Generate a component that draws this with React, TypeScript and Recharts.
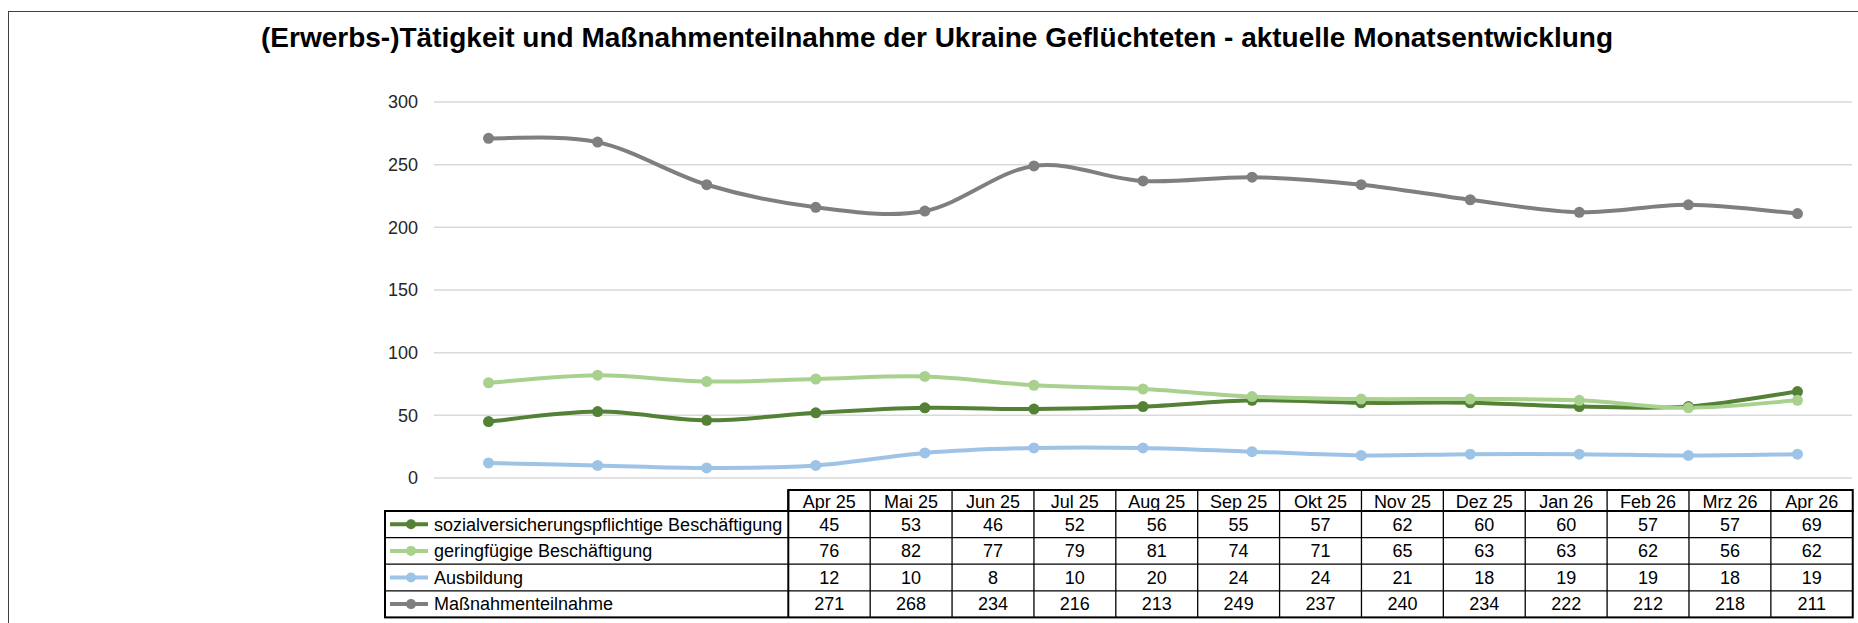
import React from "react"
import { LineChart, Line, XAxis, YAxis, CartesianGrid } from "recharts"

const months = ["Apr 25", "Mai 25", "Jun 25", "Jul 25", "Aug 25", "Sep 25", "Okt 25", "Nov 25", "Dez 25", "Jan 26", "Feb 26", "Mrz 26", "Apr 26"]
const svBeschaeftigung = [45, 53, 46, 52, 56, 55, 57, 62, 60, 60, 57, 57, 69]
const geringfuegig = [76, 82, 77, 79, 81, 74, 71, 65, 63, 63, 62, 56, 62]
const ausbildung = [12, 10, 8, 10, 20, 24, 24, 21, 18, 19, 19, 18, 19]
const massnahmen = [271, 268, 234, 216, 213, 249, 237, 240, 234, 222, 212, 218, 211]
const yTicks = [0, 50, 100, 150, 200, 250, 300]

const series = [
  { key: "sv", name: "sozialversicherungspflichtige Beschäftigung", color: "#538135", values: svBeschaeftigung },
  { key: "gering", name: "geringfügige Beschäftigung", color: "#a9d18e", values: geringfuegig },
  { key: "ausb", name: "Ausbildung", color: "#9dc3e6", values: ausbildung },
  { key: "mass", name: "Maßnahmenteilnahme", color: "#7f7f7f", values: massnahmen },
]

const chartData = months.map((month, i) => {
  const row: Record<string, string | number> = { month }
  series.forEach((s) => (row[s.key] = s.values[i]))
  return row
})

// Excel-like smoothed line (Catmull-Rom through the points)
const excelSmooth = (context: any) => {
  let pts: [number, number][] = []
  return {
    areaStart() {},
    areaEnd() {},
    lineStart() {
      pts = []
    },
    point(x: number, y: number) {
      pts.push([+x, +y])
    },
    lineEnd() {
      const n = pts.length
      if (!n) return
      context.moveTo(pts[0][0], pts[0][1])
      for (let i = 0; i < n - 1; i++) {
        const p0 = pts[Math.max(i - 1, 0)]
        const p1 = pts[i]
        const p2 = pts[i + 1]
        const p3 = pts[Math.min(i + 2, n - 1)]
        context.bezierCurveTo(
          p1[0] + (p2[0] - p0[0]) / 6,
          p1[1] + (p2[1] - p0[1]) / 6,
          p2[0] - (p3[0] - p1[0]) / 6,
          p2[1] - (p3[1] - p1[1]) / 6,
          p2[0],
          p2[1]
        )
      }
    },
  }
}

const FONT = "'Liberation Sans', Arial, sans-serif"

// plot area: x 434..1852, 13 category bands
const PLOT_W = 1418
const HALF_BAND = PLOT_W / months.length / 2

// data table under the plot (Excel style)
const TABLE_LEFT = 385
const COL_LEFT = 788.3
const COL_W = 81.88
const HEAD_TOP = 490
const BODY_TOP = 511
const ROW_H = 26.6
const TABLE_FONT = 18

const DataTable = () => {
  const right = COL_LEFT + COL_W * months.length
  const bottom = BODY_TOP + ROW_H * series.length
  return (
    <svg width={1858} height={623} style={{ position: "absolute", left: 0, top: 0 }}>
      {months.map((m, i) => (
        <text key={m} x={COL_LEFT + COL_W * (i + 0.5)} y={HEAD_TOP + 17.5} textAnchor="middle" fontSize={TABLE_FONT} fill="#000" fontFamily={FONT}>
          {m}
        </text>
      ))}
      {series.map((s, r) => {
        const top = BODY_TOP + ROW_H * r
        const cy = top + ROW_H / 2
        return (
          <g key={s.key}>
            <line x1={390} x2={428} y1={cy} y2={cy} stroke={s.color} strokeWidth={4} />
            <circle cx={411} cy={cy} r={5} fill={s.color} />
            <text x={434} y={top + 19.5} fontSize={TABLE_FONT} fill="#000" fontFamily={FONT}>
              {s.name}
            </text>
            {s.values.map((v, i) => (
              <text key={i} x={COL_LEFT + COL_W * (i + 0.5)} y={top + 19.5} textAnchor="middle" fontSize={TABLE_FONT} fill="#000" fontFamily={FONT}>
                {v}
              </text>
            ))}
          </g>
        )
      })}
      {series.slice(1).map((s, r) => (
        <line key={s.key} x1={TABLE_LEFT} x2={right} y1={BODY_TOP + ROW_H * (r + 1)} y2={BODY_TOP + ROW_H * (r + 1)} stroke="#000" strokeWidth={1.3} />
      ))}
      {months.slice(1).map((m, i) => (
        <line key={m} x1={COL_LEFT + COL_W * (i + 1)} x2={COL_LEFT + COL_W * (i + 1)} y1={HEAD_TOP} y2={bottom} stroke="#000" strokeWidth={1.3} />
      ))}
      <line x1={COL_LEFT} x2={COL_LEFT} y1={HEAD_TOP} y2={bottom} stroke="#000" strokeWidth={2} />
      <rect x={COL_LEFT} y={HEAD_TOP} width={right - COL_LEFT} height={BODY_TOP - HEAD_TOP} fill="none" stroke="#000" strokeWidth={2} />
      <rect x={TABLE_LEFT} y={BODY_TOP} width={right - TABLE_LEFT} height={bottom - BODY_TOP} fill="none" stroke="#000" strokeWidth={2} />
    </svg>
  )
}

export default function App() {
  return (
    <div
      style={{
        position: "absolute",
        left: 0,
        top: 0,
        width: 1858,
        height: 623,
        overflow: "hidden",
        background: "#fff",
        fontFamily: FONT,
      }}
    >
      <div
        style={{
          position: "absolute",
          left: 8,
          top: 11,
          width: 1900,
          height: 700,
          borderLeft: "1.5px solid #404040",
          borderTop: "1.5px solid #404040",
        }}
      />
      <div
        style={{
          position: "absolute",
          left: 0,
          width: 1874,
          top: 22,
          textAlign: "center",
          fontSize: 28,
          fontWeight: "bold",
          color: "#000",
          whiteSpace: "nowrap",
        }}
      >
        (Erwerbs-)Tätigkeit und Maßnahmenteilnahme der Ukraine Geflüchteten - aktuelle Monatsentwicklung
      </div>
      <div style={{ position: "absolute", left: 0, top: 0 }}>
        <LineChart width={1858} height={490} data={chartData} margin={{ top: 102, right: 6, bottom: 12, left: 374 }}>
          <CartesianGrid vertical={false} stroke="#d9d9d9" strokeWidth={1.5} />
          <XAxis dataKey="month" hide padding={{ left: HALF_BAND, right: HALF_BAND }} />
          <YAxis
            domain={[0, 300]}
            ticks={yTicks}
            width={60}
            axisLine={false}
            tickLine={false}
            tickMargin={10}
            tick={{ fill: "#262626", fontSize: 18, fontFamily: FONT }}
          />
          {series.map((s) => (
            <Line
              key={s.key}
              dataKey={s.key}
              name={s.name}
              type={excelSmooth as any}
              stroke={s.color}
              strokeWidth={4}
              dot={{ r: 5.5, fill: s.color, stroke: "none" }}
              isAnimationActive={false}
            />
          ))}
        </LineChart>
      </div>
      <DataTable />
    </div>
  )
}
